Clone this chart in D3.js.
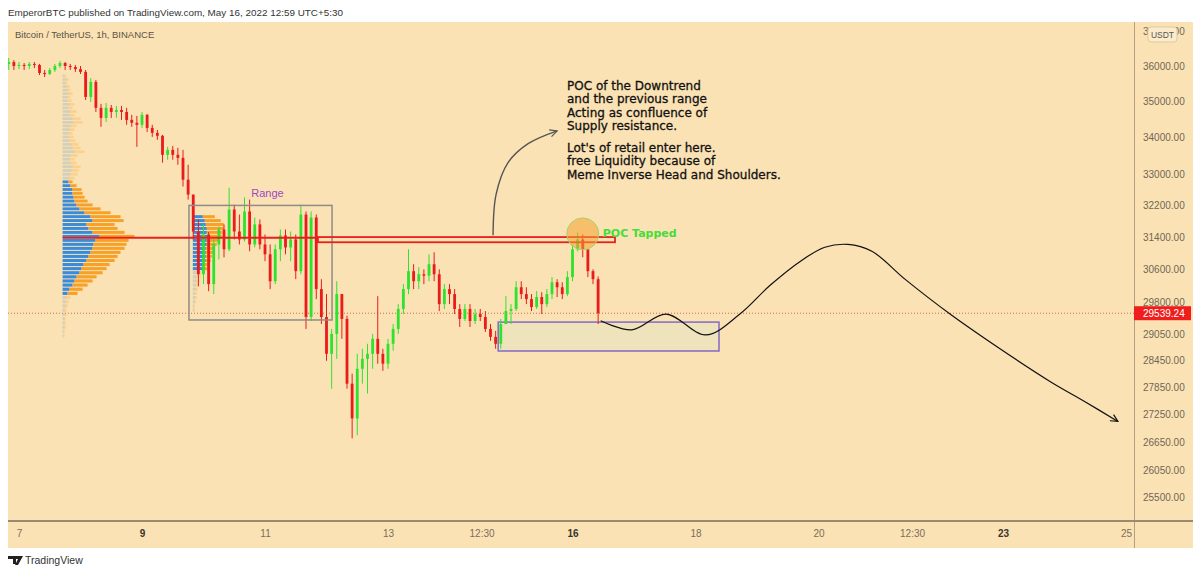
<!DOCTYPE html>
<html lang="en">
<head>
<meta charset="UTF-8">
<title>Bitcoin / TetherUS, 1h, BINANCE</title>
<script src="https://cdn.jsdelivr.net/npm/d3@7"></script>
<style>
    body { margin: 0; background: #fff; }
    svg { display: block; font-family: "Liberation Sans", Arial, sans-serif; }
    .y-axis text { font-size: 10px; fill: #706656; }
    .x-axis text { font-size: 10px; fill: #7a6e5c; }
    .x-axis text.major { font-weight: bold; fill: #3a342c; }
    .note { font-family: "DejaVu Sans", sans-serif; font-size: 12px; fill: #111; stroke: #111; stroke-width: 0.3; }
</style>
</head>
<body>
<svg width="1200" height="573"></svg>
<script>
// 2h candles, first one opens May 6 20:00
const candleStart = "2022-05-06T20:00";
const firstOpen = 36060;
const closes = [36115, 36000, 36030, 36000, 36060, 36030, 35800, 35770, 35885, 36000,
    36085, 36000, 35970, 35910, 35830, 35120, 35545, 34815, 34535, 34815,
    34700, 34755, 34700, 34480, 34400, 34345, 34620, 34260, 34125, 34045,
    33530, 33665, 33530, 33450, 32870, 32480, 31535, 30475, 31460, 30235,
    31210, 31585, 31090, 32095, 31535, 31335, 32045, 31210, 31715, 31210,
    30965, 30305, 31090, 31435, 31135, 31335, 30550, 31965, 29450, 31890,
    30115, 29450, 28595, 29055, 29995, 29405, 27920, 27155, 28255, 28480,
    28595, 28940, 28595, 28370, 28825, 29170, 29640, 30115, 30550, 30305,
    30475, 30440, 30720, 30475, 29755, 30115, 29995, 29640, 29405, 29640,
    29355, 29520, 29450, 29170, 28985, 28825, 29285, 29590, 29640, 30160,
    29995, 29875, 29685, 29925, 29755, 29995, 30280, 30160, 29995, 30405,
    31090, 31335, 31090, 30550, 30355, 29539.24];
const highs = [36230, 36170, 36115, 36085, 36115, 36115, 36060, 35885, 35940, 36060,
    36145, 36115, 36060, 36030, 36000, 35885, 35655, 35600, 34925, 34950,
    34895, 34870, 34870, 34815, 34620, 34590, 34700, 34645, 34345, 34205,
    34070, 33745, 33770, 33720, 33665, 33265, 32480, 31840, 31715, 31520,
    31335, 31665, 31715, 32660, 32220, 31965, 32405, 32350, 31890, 31840,
    31460, 31210, 31210, 31585, 31585, 31535, 31460, 32220, 32045, 32045,
    31965, 30355, 29995, 29170, 30305, 29995, 29480, 28145, 28595, 28710,
    28825, 29055, 29945, 28710, 28940, 29285, 29755, 30235, 31090, 30720,
    30645, 30595, 30965, 31015, 30595, 30235, 30235, 30115, 29755, 29755,
    29755, 29640, 29640, 29590, 29285, 29125, 29405, 29945, 29755, 30305,
    30305, 30160, 29995, 30065, 30040, 30115, 30405, 30355, 30280, 30550,
    31210, 31510, 31460, 31090, 30595, 30420];
const lows = [35885, 35885, 35910, 35885, 35910, 35940, 35740, 35685, 35740, 35830,
    35940, 35885, 35885, 35830, 35770, 35035, 34980, 34700, 34290, 34425,
    34535, 34535, 34480, 34345, 34290, 33745, 34260, 34150, 34015, 33935,
    33320, 33400, 33400, 33265, 32690, 32350, 31335, 30185, 30235, 30065,
    29995, 30840, 30890, 31040, 31335, 31210, 31285, 31040, 31135, 31090,
    30795, 30115, 30235, 30795, 30965, 30795, 30355, 30475, 29170, 29355,
    29875, 29285, 28435, 27810, 28480, 28940, 27810, 26725, 26790, 27920,
    27700, 28255, 28370, 28210, 28255, 28665, 29055, 29520, 29995, 30115,
    30115, 30235, 30305, 30305, 29590, 29640, 29755, 29520, 29215, 29355,
    29215, 29285, 29355, 29100, 28895, 28710, 28710, 29285, 29285, 29590,
    29875, 29755, 29590, 29640, 29520, 29685, 29875, 29925, 29875, 29945,
    30305, 31040, 30890, 30405, 30235, 29285];
const lastPrice = 29539.24;

// visible range volume profile (100 USDT rows)
const profileAnchor = "2022-05-07T17:00";
const profileLevels = [35700, 35600, 35500, 35400, 35300, 35200, 35100, 35000,
    34900, 34800, 34700, 34600, 34500, 34400, 34300, 34200, 34100, 34000,
    33900, 33800, 33700, 33600, 33500, 33400, 33300, 33200, 33100, 33000,
    32900, 32800, 32700, 32600, 32500, 32400, 32300, 32200, 32100, 32000,
    31900, 31800, 31700, 31600, 31500, 31400, 31300, 31200, 31100, 31000,
    30900, 30800, 30700, 30600, 30500, 30400, 30300, 30200, 30100, 30000,
    29900, 29800, 29700, 29600, 29500, 29400, 29300, 29200, 29100, 29000];
const profileBuy = [2, 4, 3, 4, 5, 6, 5, 5,
    7, 6, 8, 7, 10, 11, 8, 7, 6, 6,
    7, 9, 10, 12, 8, 7, 8, 10, 9, 8,
    7, 6, 8, 10, 10, 11, 12, 14, 17, 22,
    28, 30, 24, 26, 30, 37, 33, 31, 30, 28,
    26, 24, 21, 19, 17, 14, 12, 10, 7, 5,
    4, 3, 3, 2, 2, 2, 2, 2, 1, 1];
const profileSell = [2, 2, 2, 3, 3, 4, 3, 4,
    5, 4, 6, 5, 8, 9, 6, 5, 4, 5,
    6, 7, 8, 10, 7, 5, 6, 8, 7, 7,
    5, 4, 6, 9, 10, 11, 13, 16, 21, 26,
    30, 31, 28, 29, 32, 35, 33, 33, 32, 30,
    29, 28, 26, 25, 23, 20, 18, 15, 13, 10,
    4, 3, 2, 2, 2, 1, 1, 1, 1, 1];
const valueArea = [30000, 32800];

// fixed range profile inside the range box
const rangeProfileAnchor = "2022-05-09T19:50";
const rangeLevels = [31900, 31800, 31700, 31600, 31500, 31400, 31300, 31200, 31100, 31000,
    30900, 30800, 30700, 30600, 30500, 30400, 30300, 30200, 30100, 30000,
    29900, 29800, 29700, 29600];
const rangeBuy = [10, 12, 13, 14, 14, 15, 14, 14, 13, 13, 13, 13, 12, 12, 5, 4, 4, 3, 3, 2, 2, 2, 1, 1];
const rangeSell = [12, 16, 18, 17, 15, 14, 12, 10, 9, 8, 6, 5, 4, 3, 4, 4, 3, 3, 2, 2, 2, 1, 1, 1];
const rangeValueArea = [30600, 31900];

// drawings
const pocPrice = 31375;
const pocZone = {from: "2022-05-11T20:40", to: "2022-05-16T16:35", top: 31395, bottom: 31265};
const rangeBox = {from: "2022-05-09T18:20", to: "2022-05-12T02:10", top: 32200, bottom: 29380};
const demandZone = {from: "2022-05-14T19:00", to: "2022-05-18T09:10", top: 29330, bottom: 28660};
const tapPoint = {time: "2022-05-16T04:00", price: 31475};
const arrowTimes = ["2022-05-14T17:00", "2022-05-14T18:10", "2022-05-14T22:50", "2022-05-15T06:40", "2022-05-15T18:00"];
const arrowPrices = [31440, 32480, 33320, 33830, 34180];
const projTimes = ["2022-05-16T11:00", "2022-05-16T23:10", "2022-05-17T12:30", "2022-05-18T04:00",
    "2022-05-18T17:20", "2022-05-19T05:00", "2022-05-19T16:50", "2022-05-20T02:30",
    "2022-05-20T11:30", "2022-05-20T20:50", "2022-05-21T09:50", "2022-05-22T03:20",
    "2022-05-22T22:50", "2022-05-23T18:20", "2022-05-24T08:00", "2022-05-24T20:50"];
const projPrices = [29360, 29150, 29520, 29030, 29520, 30200, 30790, 31140,
    31210, 31040, 30350, 29520, 28710, 27970, 27520, 27090];
const noteLines = ["POC of the Downtrend", "and the previous range", "Acting as confluence of",
    "Supply resistance.", "", "Lot's of retail enter here.", "free Liquidity because of",
    "Meme Inverse Head and Shoulders."];

// axes
const priceTicks = [37000, 36000, 35000, 34000, 33000, 32200, 31400, 30600, 29800,
    29050, 28450, 27850, 27250, 26650, 26050, 25500];
const timeTicks = ["2022-05-07T00:00", "2022-05-09T00:00", "2022-05-11T00:00", "2022-05-13T00:00",
    "2022-05-14T12:30", "2022-05-16T00:00", "2022-05-18T00:00", "2022-05-20T00:00",
    "2022-05-21T12:30", "2022-05-23T00:00", "2022-05-25T00:00"];
const majorDays = [9, 16, 23];

const svg = d3.select("svg");
const parseTime = d3.utcParse("%Y-%m-%dT%H:%M");

const plot = {left: 8, right: 1134, top: 22, bottom: 521};
const panel = {left: 8, right: 1193, top: 22, bottom: 548};

const x = d3.scaleUtc()
    .domain([parseTime("2022-05-09T00:00"), parseTime("2022-05-23T00:00")])
    .range([142, 1003]);
const y = d3.scaleLog()
    .domain([36000, 25500])
    .range([66, 497]);

const green = "#2fe22f", red = "#ea1b1b";

// header
svg.append("text")
    .attr("x", 8).attr("y", 16)
    .attr("font-size", 9.9).attr("fill", "#333")
    .text("EmperorBTC published on TradingView.com, May 16, 2022 12:59 UTC+5:30");

svg.append("rect")
    .attr("x", panel.left).attr("y", panel.top)
    .attr("width", panel.right - panel.left).attr("height", panel.bottom - panel.top)
    .attr("fill", "#fbe2b4");

const defs = svg.append("defs");
defs.append("clipPath").attr("id", "plotClip")
    .append("rect")
    .attr("x", plot.left).attr("y", plot.top)
    .attr("width", plot.right - plot.left).attr("height", plot.bottom - plot.top);

function arrowMarker(id, color) {
    defs.append("marker")
        .attr("id", id)
        .attr("viewBox", "0 0 10 10")
        .attr("refX", 9).attr("refY", 5)
        .attr("markerWidth", 9).attr("markerHeight", 9)
        .attr("markerUnits", "userSpaceOnUse")
        .attr("orient", "auto")
        .append("path")
        .attr("d", "M1,1 L9,5 L1,9")
        .attr("fill", "none")
        .attr("stroke", color)
        .attr("stroke-width", 1.3);
}
arrowMarker("arrowGrey", "#555");
arrowMarker("arrowBlack", "#111");

const g = svg.append("g").attr("clip-path", "url(#plotClip)");

// current price line
g.append("line")
    .attr("x1", plot.left).attr("x2", plot.right)
    .attr("y1", y(lastPrice)).attr("y2", y(lastPrice))
    .attr("stroke", "#e0644c").attr("stroke-width", 1)
    .attr("stroke-dasharray", "1,2");

// demand zone (under candles)
g.append("rect")
    .attr("x", x(parseTime(demandZone.from)))
    .attr("y", y(demandZone.top))
    .attr("width", x(parseTime(demandZone.to)) - x(parseTime(demandZone.from)))
    .attr("height", y(demandZone.bottom) - y(demandZone.top))
    .attr("fill", "#eee3ba")
    .attr("stroke", "#8a70c4").attr("stroke-width", 1.6);

// volume profiles
function drawProfile(levels, buy, sell, anchor, va, maxWidth) {
    const rows = levels.map((p, i) => ({p: p, buy: buy[i], sell: sell[i]}));
    const w = d3.scaleLinear()
        .domain([0, d3.max(rows, d => d.buy + d.sell)])
        .range([0, maxWidth]);
    const x0 = x(parseTime(anchor));
    const inVA = d => d.p >= va[0] && d.p <= va[1];
    const pg = g.append("g");
    const row = pg.selectAll("g").data(rows).enter().append("g");
    row.append("rect")
        .attr("x", x0)
        .attr("y", d => y(d.p + 50))
        .attr("width", d => w(d.buy))
        .attr("height", d => Math.max(1, y(d.p - 50) - y(d.p + 50) - 1))
        .attr("fill", d => inVA(d) ? "#3a8cdb" : "rgba(70,140,210,0.22)");
    row.append("rect")
        .attr("x", d => x0 + w(d.buy))
        .attr("y", d => y(d.p + 50))
        .attr("width", d => w(d.sell))
        .attr("height", d => Math.max(1, y(d.p - 50) - y(d.p + 50) - 1))
        .attr("fill", d => inVA(d) ? "#f7a128" : "rgba(249,160,30,0.25)");
}
drawProfile(profileLevels, profileBuy, profileSell, profileAnchor, valueArea, 72);
drawProfile(rangeLevels, rangeBuy, rangeSell, rangeProfileAnchor, rangeValueArea, 31);

// candles
const start = parseTime(candleStart);
const candles = closes.map((c, i) => ({
    t: d3.utcHour.offset(start, 2 * i),
    o: i === 0 ? firstOpen : closes[i - 1],
    h: highs[i],
    l: lows[i],
    c: c
}));
const bw = (x(d3.utcHour.offset(start, 2)) - x(start)) * 0.55;

const cg = g.append("g").selectAll("g").data(candles).enter().append("g");
cg.append("line")
    .attr("x1", d => x(d.t)).attr("x2", d => x(d.t))
    .attr("y1", d => y(d.h)).attr("y2", d => y(d.l))
    .attr("stroke", d => d.c >= d.o ? green : red)
    .attr("stroke-width", 1);
cg.append("rect")
    .attr("x", d => x(d.t) - bw / 2)
    .attr("y", d => y(Math.max(d.o, d.c)))
    .attr("width", bw)
    .attr("height", d => Math.max(1, Math.abs(y(d.o) - y(d.c))))
    .attr("fill", d => d.c >= d.o ? green : red);

// range box
g.append("rect")
    .attr("x", x(parseTime(rangeBox.from)))
    .attr("y", y(rangeBox.top))
    .attr("width", x(parseTime(rangeBox.to)) - x(parseTime(rangeBox.from)))
    .attr("height", y(rangeBox.bottom) - y(rangeBox.top))
    .attr("fill", "none")
    .attr("stroke", "#8f8c88").attr("stroke-width", 1.5);
g.append("text")
    .attr("x", (x(parseTime(rangeBox.from)) + x(parseTime(rangeBox.to))) / 2 + 7)
    .attr("y", y(rangeBox.top) - 8)
    .attr("text-anchor", "middle")
    .attr("font-size", 11).attr("fill", "#9c47c4")
    .text("Range");

// POC line and zone
g.append("line")
    .attr("x1", x(parseTime(profileAnchor))).attr("x2", x(parseTime(pocZone.from)))
    .attr("y1", y(pocPrice)).attr("y2", y(pocPrice))
    .attr("stroke", "#e8201c").attr("stroke-width", 2);
g.append("rect")
    .attr("x", x(parseTime(pocZone.from)))
    .attr("y", y(pocZone.top))
    .attr("width", x(parseTime(pocZone.to)) - x(parseTime(pocZone.from)))
    .attr("height", y(pocZone.bottom) - y(pocZone.top))
    .attr("fill", "none")
    .attr("stroke", "#e8201c").attr("stroke-width", 1.8);

// POC tapped marker
const tx = x(parseTime(tapPoint.time)), ty = y(tapPoint.price);
g.append("circle")
    .attr("cx", tx).attr("cy", ty).attr("r", 16)
    .attr("fill", "rgba(244,160,50,0.55)")
    .attr("stroke", "#a3d46c").attr("stroke-width", 1);
g.append("text")
    .attr("x", tx + 20).attr("y", ty + 3)
    .attr("font-family", "DejaVu Sans, sans-serif")
    .attr("font-size", 11).attr("font-weight", "bold")
    .attr("fill", "#44dd3a")
    .text("POC Tapped");

// curved arrow to the note
const arrowLine = d3.line()
    .x(d => x(parseTime(d[0])))
    .y(d => y(d[1]))
    .curve(d3.curveCatmullRom);
g.append("path")
    .datum(arrowTimes.map((t, i) => [t, arrowPrices[i]]))
    .attr("d", arrowLine)
    .attr("fill", "none")
    .attr("stroke", "#555").attr("stroke-width", 1.4)
    .attr("marker-end", "url(#arrowGrey)");

// projected path
g.append("path")
    .datum(projTimes.map((t, i) => [t, projPrices[i]]))
    .attr("d", arrowLine)
    .attr("fill", "none")
    .attr("stroke", "#111").attr("stroke-width", 1.2)
    .attr("marker-end", "url(#arrowBlack)");

// note text
const note = g.append("text").attr("class", "note");
let ny = 90;
noteLines.forEach(function (line) {
    if (line === "") { ny += 8.4; return; }
    note.append("tspan").attr("x", 567).attr("y", ny).text(line);
    ny += 13.35;
});

// symbol title
svg.append("text")
    .attr("x", 15).attr("y", 38)
    .attr("font-size", 9.5).attr("fill", "#5a5246")
    .text("Bitcoin / TetherUS, 1h, BINANCE");

// price axis
svg.append("line")
    .attr("x1", plot.right + 0.5).attr("x2", plot.right + 0.5)
    .attr("y1", panel.top).attr("y2", panel.bottom)
    .attr("stroke", "#b4a07e").attr("stroke-width", 1);

const yAxis = svg.append("g")
    .attr("class", "y-axis")
    .attr("transform", "translate(" + plot.right + ",0)")
    .call(d3.axisRight(y).tickValues(priceTicks).tickFormat(d3.format(".2f")).tickSize(0).tickPadding(9));
yAxis.select(".domain").remove();

// currency badge over the top label
svg.append("rect")
    .attr("x", 1148).attr("y", 27).attr("width", 29).attr("height", 15).attr("rx", 3)
    .attr("fill", "#fcebcb").attr("stroke", "#dccaa6");
svg.append("text")
    .attr("x", 1162.5).attr("y", 38).attr("text-anchor", "middle")
    .attr("font-size", 8.5).attr("fill", "#555")
    .text("USDT");

// last price label
svg.append("rect")
    .attr("x", plot.right).attr("y", y(lastPrice) - 7)
    .attr("width", 57).attr("height", 14)
    .attr("fill", "#f01d1d");
svg.append("text")
    .attr("x", plot.right + 9).attr("y", y(lastPrice) + 3.5)
    .attr("font-size", 10).attr("fill", "#fff")
    .text(d3.format(".2f")(lastPrice));

// time axis
const fmtTick = d => d.getUTCHours() || d.getUTCMinutes() ? d3.utcFormat("%H:%M")(d) : d3.utcFormat("%-d")(d);
const xAxis = svg.append("g")
    .attr("class", "x-axis")
    .attr("transform", "translate(0," + plot.bottom + ")")
    .call(d3.axisBottom(x).tickValues(timeTicks.map(parseTime)).tickFormat(fmtTick).tickSize(0).tickPadding(9));
xAxis.select(".domain").remove();
xAxis.selectAll("text")
    .classed("major", d => !d.getUTCHours() && majorDays.includes(d.getUTCDate()));

svg.append("line")
    .attr("x1", panel.left).attr("x2", panel.right)
    .attr("y1", plot.bottom).attr("y2", plot.bottom)
    .attr("stroke", "#9a8a70").attr("stroke-width", 2);

// footer logo
const logo = svg.append("g").attr("fill", "#222");
logo.append("path").attr("d", "M8,556 h8 v8 h-3 v-5 h-5 z");
logo.append("path").attr("d", "M16,556 h7 l-5,9 h-3 l3,-6 h-2 z");
svg.append("text")
    .attr("x", 25).attr("y", 564)
    .attr("font-size", 10.5).attr("fill", "#333")
    .text("TradingView");
</script>
</body>
</html>
